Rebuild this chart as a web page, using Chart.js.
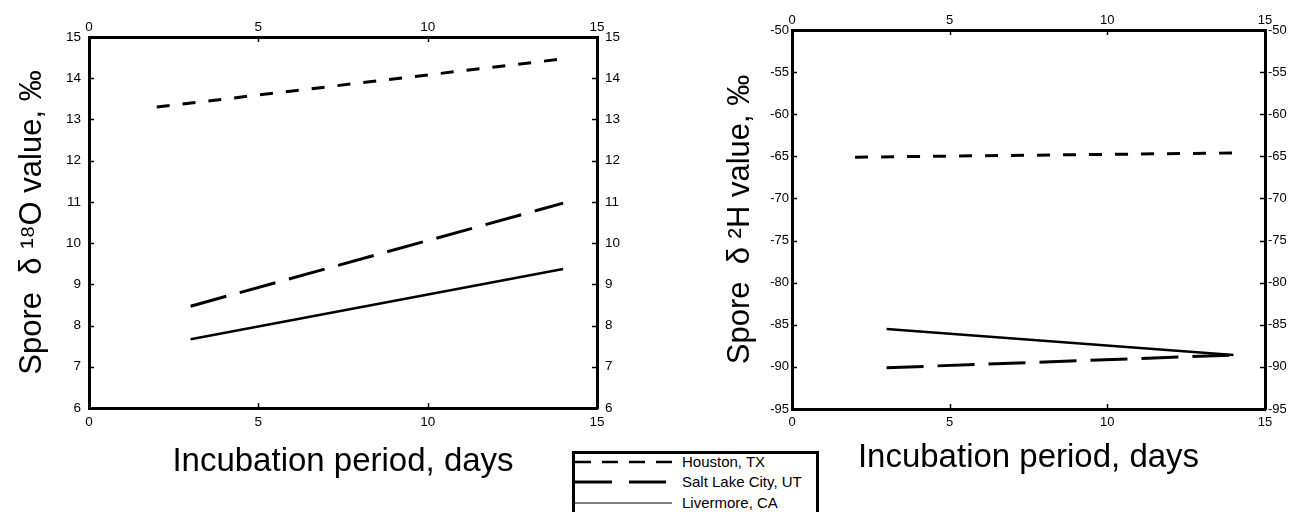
<!DOCTYPE html>
<html>
<head>
<meta charset="utf-8">
<script src="https://cdn.jsdelivr.net/npm/chart.js@4.4.1/dist/chart.umd.min.js"></script>
<style>
html, body { margin: 0; padding: 0; background: #fff; }
body { width: 1293px; height: 512px; position: relative; overflow: hidden; font-family: "Liberation Sans", Arial, sans-serif; }
.wrap { position: absolute; top: 0; height: 512px; }
#wrapO { left: 0; width: 640px; }
#wrapH { left: 660px; width: 633px; }
#legend { position: absolute; left: 572px; top: 451px; width: 241px; height: 80px; border: 3px solid #000; background: #fff; }
.row { position: absolute; left: 0; height: 16px; line-height: 16px; font-size: 15px; color: #000; }
.row svg { position: absolute; left: 0; top: 0; }
.row span { position: absolute; left: 107px; top: 0; white-space: nowrap; }
</style>
</head>
<body>
<div class="wrap" id="wrapO"><canvas id="chartO"></canvas></div>
<div class="wrap" id="wrapH"><canvas id="chartH"></canvas></div>
<div id="legend">
  <div class="row" style="top:0px"><svg width="100" height="16"><line x1="0" y1="8" x2="97" y2="8" stroke="#000" stroke-width="2.5" stroke-dasharray="16 11"/></svg><span>Houston, TX</span></div>
  <div class="row" style="top:20px"><svg width="100" height="16"><line x1="0" y1="8" x2="97" y2="8" stroke="#000" stroke-width="3" stroke-dasharray="37 17"/></svg><span>Salt Lake City, UT</span></div>
  <div class="row" style="top:41px"><svg width="100" height="16"><line x1="0" y1="8" x2="97" y2="8" stroke="#000" stroke-width="1"/></svg><span>Livermore, CA</span></div>
</div>
<script>
// incubation days at the ends of each fitted line
const houstonDays = [2, 14];
const slcDays = [3, 14];
const livermoreDays = [3, 14];

// spore d18O values, permil
const o18Houston = [13.3, 14.47];
const o18Slc = [8.47, 10.97];
const o18Livermore = [7.67, 9.37];

// spore d2H values, permil
const h2Houston = [-65.1, -64.6];
const h2Slc = [-90.1, -88.6];
const h2Livermore = [-85.5, -88.6];

const seriesNames = ['Houston, TX', 'Salt Lake City, UT', 'Livermore, CA'];

const fontFamily = '"Liberation Sans", Arial, Helvetica, sans-serif';

function pts(xs, ys) {
    return xs.map((x, i) => ({ x: x, y: ys[i] }));
}

// inward tick marks on all four sides
const inwardTicks = {
    id: 'inwardTicks',
    afterDraw(chart) {
        const ctx = chart.ctx;
        const a = chart.chartArea;
        ctx.save();
        ctx.strokeStyle = '#000';
        ctx.lineWidth = 1.5;
        Object.values(chart.scales).forEach(s => {
            s.ticks.forEach(t => {
                if (t.value === s.min || t.value === s.max) return;
                const p = Math.round(s.getPixelForValue(t.value)) + 0.5;
                ctx.beginPath();
                if (s.position === 'bottom') { ctx.moveTo(p, a.bottom); ctx.lineTo(p, a.bottom - 5); }
                if (s.position === 'top') { ctx.moveTo(p, a.top); ctx.lineTo(p, a.top + 5); }
                if (s.position === 'left') { ctx.moveTo(a.left, p); ctx.lineTo(a.left + 5, p); }
                if (s.position === 'right') { ctx.moveTo(a.right, p); ctx.lineTo(a.right - 5, p); }
                ctx.stroke();
            });
        });
        ctx.restore();
    }
};

function axis(position, min, max, step, size, tickFont, pad, extra) {
    const cfg = {
        type: 'linear',
        position: position,
        min: min,
        max: max,
        grid: { drawOnChartArea: false, drawTicks: false },
        border: { display: true, width: 3, color: '#000' },
        ticks: { stepSize: step, color: '#000', font: tickFont, padding: pad, maxRotation: 0, autoSkip: false },
        afterFit: s => {
            if (position === 'left' || position === 'right') s.width = size; else s.height = size;
        }
    };
    return Object.assign(cfg, extra || {});
}

function makeChart(id, w, opts) {
    const canvas = document.getElementById(id);
    canvas.width = w;
    canvas.height = 512;
    const xTitle = {
        display: true, text: 'Incubation period, days', color: '#000',
        font: { family: fontFamily, size: 33, lineHeight: 1 },
        padding: { top: 0, bottom: opts.xTitlePad }
    };
    const yTitle = {
        display: true, text: opts.yTitle, color: '#000',
        font: { family: fontFamily, size: 31, lineHeight: 1 },
        padding: { top: opts.yTitlePad, bottom: 0 }
    };
    return new Chart(canvas, {
        type: 'line',
        data: {
            datasets: [
                { label: seriesNames[0], data: pts(houstonDays, opts.data[0]), borderColor: '#000', borderWidth: 3, borderDash: [13, 13], pointRadius: 0, fill: false },
                { label: seriesNames[1], data: pts(slcDays, opts.data[1]), borderColor: '#000', borderWidth: 3, borderDash: [37, 14], pointRadius: 0, fill: false },
                { label: seriesNames[2], data: pts(livermoreDays, opts.data[2]), borderColor: '#000', borderWidth: 2.5, pointRadius: 0, fill: false }
            ]
        },
        options: {
            responsive: false,
            animation: false,
            layout: { padding: 0 },
            plugins: { legend: { display: false }, tooltip: { enabled: false } },
            scales: {
                x: axis('bottom', 0, 15, 5, opts.bottomH, opts.tickFont, 6, { title: xTitle }),
                x2: axis('top', 0, 15, 5, opts.topH, opts.tickFont, 2),
                y: axis('left', opts.yMin, opts.yMax, opts.yStep, opts.leftW, opts.tickFont, opts.yPad, { title: yTitle }),
                y2: axis('right', opts.yMin, opts.yMax, opts.yStep, opts.rightW, opts.tickFont, opts.yPad)
            }
        },
        plugins: [inwardTicks]
    });
}

makeChart('chartO', 640, {
    data: [o18Houston, o18Slc, o18Livermore],
    yTitle: 'Spore  δ ¹⁸O value, ‰',
    yMin: 6, yMax: 15, yStep: 1,
    leftW: 89, rightW: 43, topH: 37, bottomH: 104,
    xTitlePad: 34, yTitlePad: 17, yPad: 8,
    tickFont: { family: fontFamily, size: 13.5 }
});

makeChart('chartH', 633, {
    data: [h2Houston, h2Slc, h2Livermore],
    yTitle: 'Spore  δ ²H value, ‰',
    yMin: -95, yMax: -50, yStep: 5,
    leftW: 132, rightW: 28, topH: 30, bottomH: 103,
    xTitlePad: 38, yTitlePad: 65, yPad: 3,
    tickFont: { family: fontFamily, size: 13 }
});
</script>
</body>
</html>
